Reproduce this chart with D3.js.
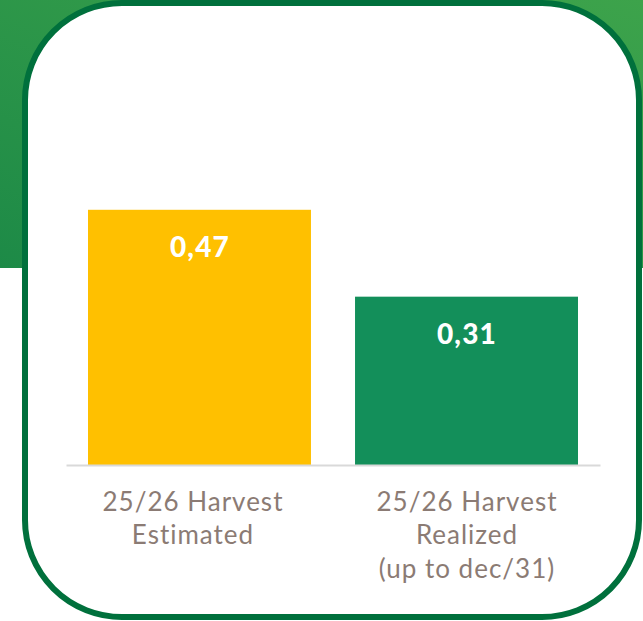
<!DOCTYPE html>
<html>
<head>
<meta charset="utf-8">
<script src="https://cdn.jsdelivr.net/npm/d3@7"></script>
<style>
  html, body { margin: 0; padding: 0; background: #fff; }
  svg { display: block; }
</style>
</head>
<body>
<svg id="chart" width="643" height="621"></svg>
<script>
const categories = ["25/26 Harvest\nEstimated", "25/26 Harvest\nRealized\n(up to dec/31)"];
const values = [0.47, 0.31];
const valueLabels = ["0,47", "0,31"];
const barColors = ["#FFC000", "#138F5A"];

const svg = d3.select("#chart");
const W = 643, H = 621;

// background green band with gradient
const defs = svg.append("defs");
const grad = defs.append("linearGradient")
  .attr("id", "bg")
  .attr("x1", "0%").attr("y1", "100%")
  .attr("x2", "100%").attr("y2", "0%");
grad.append("stop").attr("offset", "0%").attr("stop-color", "#1d8a47");
grad.append("stop").attr("offset", "100%").attr("stop-color", "#3da34b");

svg.append("rect")
  .attr("x", 0).attr("y", 0)
  .attr("width", W).attr("height", 268)
  .attr("fill", "url(#bg)");

// card
svg.append("rect")
  .attr("x", 25).attr("y", 3)
  .attr("width", 614).attr("height", 614)
  .attr("rx", 97).attr("ry", 97)
  .attr("fill", "#fff")
  .attr("stroke", "#00703c")
  .attr("stroke-width", 6);

// scales
const x = d3.scaleBand()
  .domain(categories)
  .range([66, 600])
  .paddingInner(0.165)
  .paddingOuter(0.0824);

const y = d3.scaleLinear()
  .domain([0, 0.5])
  .range([465, 465 - 0.5 * 543]);

// bars
svg.append("g").selectAll("rect")
  .data(values)
  .join("rect")
  .attr("x", (d, i) => x(categories[i]))
  .attr("y", d => y(d))
  .attr("width", x.bandwidth())
  .attr("height", d => y(0) - y(d))
  .attr("fill", (d, i) => barColors[i]);

// baseline axis
const xAxis = svg.append("g")
  .attr("transform", `translate(0,${y(0)})`)
  .call(d3.axisBottom(x).tickSize(0).tickFormat(""));
xAxis.select(".domain").attr("stroke", "#d9d9d9").attr("stroke-width", 2);

// value labels
svg.append("g").selectAll("text")
  .data(values)
  .join("text")
  .attr("x", (d, i) => x(categories[i]) + x.bandwidth() / 2 + 0.5)
  .attr("y", d => y(d) + 47)
  .attr("text-anchor", "middle")
  .attr("fill", "#fff")
  .attr("font-family", "Lato, 'Open Sans', sans-serif")
  .attr("font-weight", 900)
  .attr("font-size", 28)
  .attr("letter-spacing", 1.2)
  .text((d, i) => valueLabels[i]);

// category labels (first one sits a little left of its bar in the original)
const labelShift = [-7, 0];
const catG = svg.append("g").selectAll("text")
  .data(categories)
  .join("text")
  .attr("x", (d, i) => x(d) + x.bandwidth() / 2 + labelShift[i] + 0.5)
  .attr("y", 511)
  .attr("text-anchor", "middle")
  .attr("fill", "#8b7b74")
  .attr("font-family", "Lato, 'Open Sans', sans-serif")
  .attr("font-size", 26)
  .attr("letter-spacing", 1);

catG.selectAll("tspan")
  .data(d => d.split("\n"))
  .join("tspan")
  .attr("x", function () { return d3.select(this.parentNode).attr("x"); })
  .attr("dy", (d, i) => i === 0 ? 0 : 33.3)
  .text(d => d);
</script>
</body>
</html>
